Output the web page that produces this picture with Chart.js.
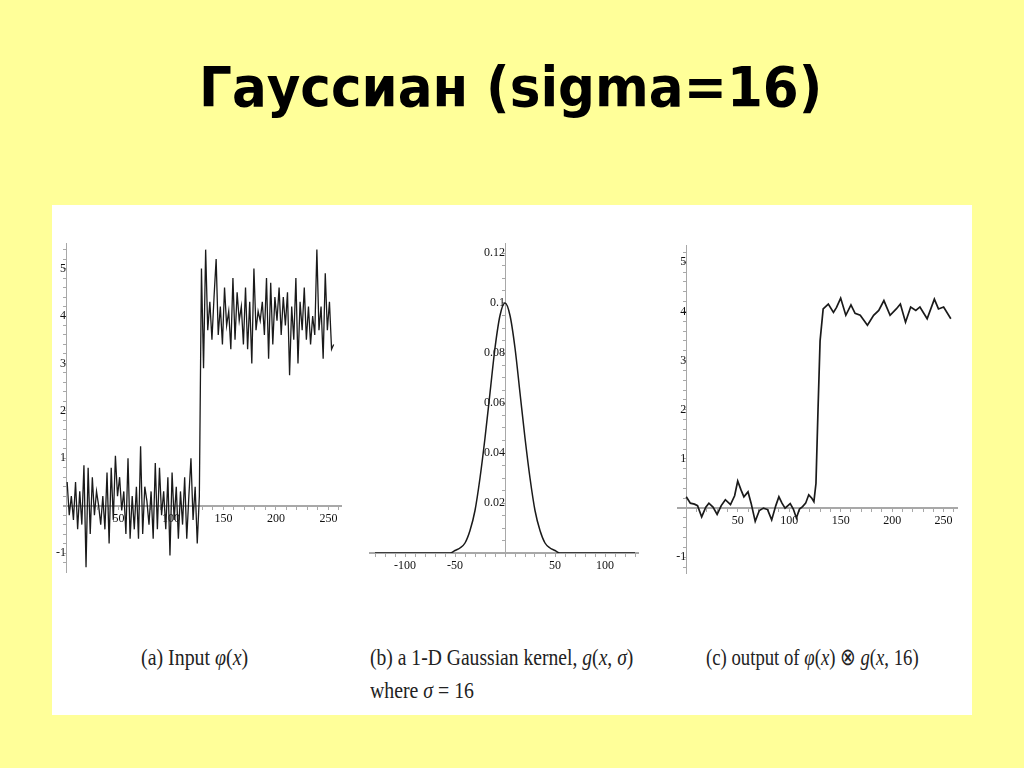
<!DOCTYPE html>
<html>
<head>
<meta charset="utf-8">
<script src="https://cdn.jsdelivr.net/npm/chart.js@4"></script>
<style>
  body { margin: 0; width: 1024px; height: 768px; background: #ffff99; position: relative; overflow: hidden; }
  #sheet { position: absolute; left: 52px; top: 205px; width: 920px; height: 510px; background: #fff; }
  canvas { position: absolute; }
  .fit { position: absolute; white-space: nowrap; transform-origin: 0 0; display: inline-block; }
  #title { font-family: "DejaVu Sans", sans-serif; font-weight: bold; font-size: 55px; line-height: 55px; color: #000; }
  .cap { font-family: "Liberation Serif", serif; font-size: 24px; line-height: 24px; color: #222; }
</style>
</head>
<body>
<div id="sheet"></div>
<div id="title" class="fit" data-w="623" style="left:199px; top:60px;">Гауссиан (sigma=16)</div>

<canvas id="chartA"></canvas>
<canvas id="chartB"></canvas>
<canvas id="chartC"></canvas>

<div class="fit cap" data-w="107" style="left:141px; top:645px;">(a) Input <i>φ</i>(<i>x</i>)</div>
<div class="fit cap" data-w="263" style="left:370px; top:645px;">(b) a 1-D Gaussian kernel, <i>g</i>(<i>x</i>, <i>σ</i>)</div>
<div class="fit cap" data-w="104" style="left:370px; top:678px;">where <i>σ</i> = 16</div>
<div class="fit cap" data-w="213" style="left:706px; top:645px;">(c) output of <i>φ</i>(<i>x</i>) ⊗ <i>g</i>(<i>x</i>, 16)</div>

<script>
// (a) noisy input, sampled every 2 units starting at x = 1
const inputStart = 1;
const inputStep = 2;
const inputValues = [
  0.5, -0.2, 0.2, -0.3, 0.5, -0.5, 0.3, -0.4, 0.85, -1.3,
  0.8, -0.6, 0.6, -0.2, 0.3, 0.0, -0.4, 0.2, -0.5, 0.7,
  -0.8, 0.8, -0.3, 1.05, 0.2, 0.6, -0.1, 0.3, -0.6, 1.0,
  -0.7, 0.2, -0.5, 0.4, -0.7, 1.25, -0.6, 0.4, 0.1, -0.4,
  0.3, -0.7, 0.9, -0.5, 0.8, -0.2, 0.3, -0.5, 0.6, -1.05,
  0.7, -0.3, 0.4, -0.7, 0.3, -0.4, 0.6, -0.7, 0.2, 1.0,
  -0.3, 0.4, -0.8, 0.2,
  5.0, 2.9, 5.4, 3.7, 4.3, 3.5, 4.4, 5.2, 3.6, 4.2,
  3.4, 4.6, 3.8, 4.1, 3.3, 4.8, 3.5, 4.5, 3.9, 4.2,
  3.4, 4.6, 3.3, 4.3, 3.0, 5.0, 3.7, 4.1, 3.9, 4.3,
  3.6, 4.8, 3.1, 4.7, 3.4, 4.4, 3.9, 4.6, 3.6, 4.4,
  3.8, 4.5, 2.75, 4.2, 3.5, 4.8, 3.0, 4.3, 3.7, 4.6,
  3.5, 4.2, 3.4, 4.0, 3.6, 5.4, 3.7, 4.2, 3.1, 4.9,
  3.7, 4.3, 3.3, 3.4
];

// (b) Gaussian kernel, every 5 units from -130 to 130
const kernelX = [
  -130, -125, -120, -115, -110, -105, -100, -95, -90, -85, -80, -75, -70, -65, -60, -55,
  -50, -45, -40, -35, -30, -25, -20, -15, -10, -5, 0, 5, 10, 15, 20, 25, 30, 35, 40, 45, 50,
  55, 60, 65, 70, 75, 80, 85, 90, 95, 100, 105, 110, 115, 120, 125, 130
];
const kernelValues = [
  0, 0, 0, 0, 0, 0, 0, 0, 0, 0, 0, 0, 0, 0, 0, 0,
  0.001, 0.002, 0.004, 0.009, 0.017, 0.030, 0.046, 0.064, 0.082, 0.095, 0.100,
  0.095, 0.082, 0.064, 0.046, 0.030, 0.017, 0.009, 0.004, 0.002, 0.001,
  0, 0, 0, 0, 0, 0, 0, 0, 0, 0, 0, 0, 0, 0, 0, 0
];

// (c) smoothed output
const outputX = [
  0, 4, 8, 11, 15, 19, 22, 26, 30, 34,
  38, 43, 47, 50, 53, 56, 60, 63, 67, 71,
  75, 79, 83, 87, 90, 93, 96, 101, 104, 107,
  110, 113, 116, 119, 122, 124, 126, 128, 130, 133,
  138, 143, 146, 150, 155, 160, 164, 169, 176, 182,
  187, 192, 198, 204, 208, 213, 218, 223, 227, 234,
  241, 245, 250, 257
];
const outputValues = [
  0.23, 0.1, 0.08, 0.05, -0.18, 0.02, 0.1, 0.02, -0.13, 0.05,
  0.17, 0.07, 0.25, 0.55, 0.38, 0.23, 0.33, 0.1, -0.27, -0.05,
  0.0, -0.03, -0.24, 0.05, 0.23, 0.1, 0.0, 0.09, -0.02, -0.2,
  -0.02, 0.03, 0.1, 0.27, 0.2, 0.13, 0.5, 2.0, 3.4, 4.05,
  4.15, 3.98, 4.08, 4.27, 3.92, 4.13, 3.96, 3.92, 3.72, 3.92,
  4.02, 4.22, 3.92, 4.05, 4.15, 3.78, 4.09, 4.02, 4.09, 3.85,
  4.25, 4.05, 4.09, 3.85
];

const inputLabelsX = [50, 100, 150, 200, 250];
const inputLabelsY = [-1, 1, 2, 3, 4, 5];
const kernelLabelsX = [-100, -50, 50, 100];
const kernelLabelsY = [0.02, 0.04, 0.06, 0.08, 0.1, 0.12];
const outputLabelsX = [50, 100, 150, 200, 250];
const outputLabelsY = [-1, 1, 2, 3, 4, 5];

const M = 30; // margin around each plot area inside its canvas
const tickFont = { family: "Liberation Serif", size: 12 };

function labelFrom(list) {
  return function (v) {
    const hit = list.find(t => Math.abs(t - v) < 1e-9);
    return hit === undefined ? '' : String(hit);
  };
}

function axis(min, max, step, labels, pos, lineWidth) {
  return {
    type: 'linear',
    min: min,
    max: max,
    position: pos,
    border: { display: true, color: '#a8a8a8', width: lineWidth },
    grid: { drawOnChartArea: false, drawTicks: true, tickLength: 3, color: '#a8a8a8' },
    ticks: {
      stepSize: step, includeBounds: false, autoSkip: false, maxRotation: 0, padding: 3,
      color: '#111', font: tickFont, callback: labelFrom(labels)
    }
  };
}

function makeChart(id, area, points, lineStyle, xAxis, yAxis) {
  const cv = document.getElementById(id);
  cv.width = area.w + 2 * M;
  cv.height = area.h + 2 * M;
  cv.style.left = (area.l - M) + 'px';
  cv.style.top = (area.t - M) + 'px';
  return new Chart(cv, {
    type: 'line',
    data: {
      datasets: [Object.assign({
        data: points,
        pointRadius: 0,
        fill: false
      }, lineStyle)]
    },
    options: {
      responsive: false,
      animation: false,
      layout: { padding: M },
      plugins: { legend: { display: false }, tooltip: { enabled: false } },
      scales: { x: xAxis, y: yAxis }
    }
  });
}

makeChart('chartA', { l: 64, t: 243, w: 277, h: 329 },
  inputValues.map((v, i) => ({ x: inputStart + i * inputStep, y: v })),
  { borderColor: '#1a1a1a', borderWidth: 1.3, tension: 0 },
  axis(-2, 262, 10, inputLabelsX, { y: 0 }, 2),
  axis(-1.4, 5.54, 0.2, inputLabelsY, { x: 0 }, 1));

makeChart('chartB', { l: 370, t: 243, w: 268, h: 310 },
  kernelX.map((x, i) => ({ x: x, y: kernelValues[i] })),
  { borderColor: '#1a1a1a', borderWidth: 1.5, cubicInterpolationMode: 'monotone' },
  axis(-135, 133, 10, kernelLabelsX, { y: 0 }, 2),
  axis(0, 0.124, 0.005, kernelLabelsY, { x: 0 }, 1));

makeChart('chartC', { l: 678, t: 245, w: 279, h: 328 },
  outputX.map((x, i) => ({ x: x, y: outputValues[i] })),
  { borderColor: '#1a1a1a', borderWidth: 1.7, tension: 0 },
  axis(-8, 263, 10, outputLabelsX, { y: 0 }, 2),
  axis(-1.32, 5.35, 0.2, outputLabelsY, { x: 0 }, 1));

// squeeze texts to the widths they take on the slide
document.querySelectorAll('.fit').forEach(el => {
  const target = Number(el.dataset.w);
  el.style.transform = 'scaleX(' + (target / el.offsetWidth) + ')';
});
</script>
</body>
</html>
